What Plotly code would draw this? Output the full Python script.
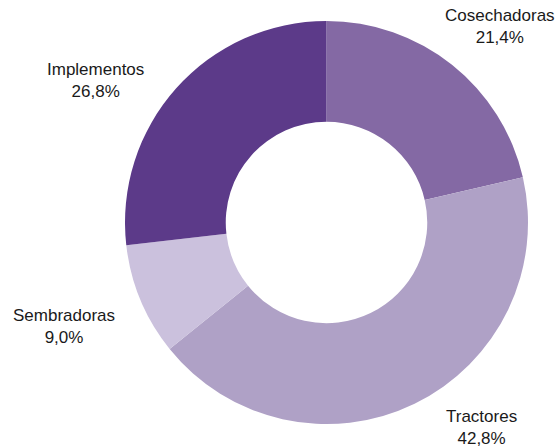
import plotly.graph_objects as go

categories = ["Cosechadoras", "Tractores", "Sembradoras", "Implementos"]
shares = [21.4, 42.8, 9.0, 26.8]
colors = ["#8469A4", "#AFA1C6", "#CBC1DD", "#5C3A89"]

# label anchor positions (paper coordinates) — styling only
label_pos = {
    "Cosechadoras": (500 / 559, 1 - 26 / 448),
    "Tractores": (481 / 559, 1 - 427 / 448),
    "Sembradoras": (64 / 559, 1 - 326 / 448),
    "Implementos": (95 / 559, 1 - 80 / 448),
}

fig = go.Figure(go.Pie(
    labels=categories,
    values=shares,
    marker=dict(colors=colors, line=dict(width=0)),
    hole=0.5,
    sort=False,
    direction="clockwise",
    rotation=0,
    textinfo="none",
    hoverinfo="label+percent",
    domain=dict(x=[125 / 559, 528 / 559], y=[24 / 448, 427 / 448]),
    showlegend=False,
))

for cat, val in zip(categories, shares):
    x, y = label_pos[cat]
    fig.add_annotation(
        x=x, y=y, xref="paper", yref="paper",
        text=f"{cat}<br>{val:.1f}%".replace(".", ","),
        showarrow=False, xanchor="center", yanchor="middle",
        font=dict(family="Liberation Sans, Arial, sans-serif", size=17, color="#1a1a1a"),
    )

fig.update_layout(
    width=559, height=448,
    margin=dict(l=0, r=0, t=0, b=0),
    paper_bgcolor="white", plot_bgcolor="white",
)

fig.write_html(
    "out.html",
    config={"displayModeBar": False},
    post_script="document.body.style.margin='0';",
)
